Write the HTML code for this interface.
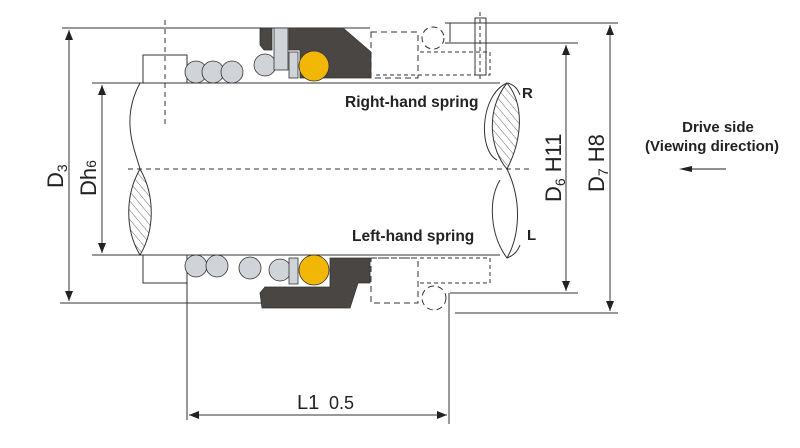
<!DOCTYPE html>
<html><head><meta charset="utf-8"><style>
html,body{margin:0;padding:0;background:#fff}
svg{display:block}
text{font-family:"Liberation Sans",Arial,sans-serif;fill:#222}
</style></head><body>
<svg width="800" height="448" viewBox="0 0 800 448" xmlns="http://www.w3.org/2000/svg">
<defs>
<marker id="a" markerWidth="10" markerHeight="8" refX="10" refY="4" orient="auto-start-reverse" markerUnits="userSpaceOnUse"><path d="M0,0 L10,4 L0,8 Z" fill="#222"/></marker>
<pattern id="h" width="6" height="6" patternUnits="userSpaceOnUse" patternTransform="rotate(-40)"><line x1="0" y1="0" x2="0" y2="6" stroke="#444" stroke-width="0.8"/></pattern>
</defs>
<g stroke="#333" stroke-width="1" fill="none">
<line x1="62" y1="28" x2="370" y2="28"/>
<line x1="60" y1="303" x2="262" y2="303"/>
<line x1="92" y1="83" x2="500" y2="83"/>
<line x1="92" y1="255" x2="500" y2="255"/>
<line x1="128" y1="169" x2="530" y2="169" stroke-dasharray="5,4"/>
<line x1="165" y1="20" x2="165" y2="125" stroke-dasharray="5,4"/>
<line x1="69" y1="30" x2="69" y2="301" marker-start="url(#a)" marker-end="url(#a)"/>
<line x1="102" y1="85" x2="102" y2="253" marker-start="url(#a)" marker-end="url(#a)"/>
<line x1="445" y1="43" x2="578" y2="43"/>
<line x1="450" y1="293" x2="578" y2="293"/>
<line x1="566" y1="45" x2="566" y2="291" marker-start="url(#a)" marker-end="url(#a)"/>
<line x1="445" y1="23" x2="618" y2="23"/>
<line x1="455" y1="313" x2="618" y2="313"/>
<line x1="610" y1="25" x2="610" y2="311" marker-start="url(#a)" marker-end="url(#a)"/>
<line x1="187" y1="283" x2="187" y2="420"/>
<line x1="449" y1="300" x2="449" y2="424"/>
<line x1="189" y1="415" x2="447" y2="415" marker-start="url(#a)" marker-end="url(#a)"/>
<rect x="143" y="55" width="44" height="28"/>
<rect x="143" y="255" width="44" height="28"/>
<path d="M140,83 C120,120 135,150 140,169"/>
<path d="M140,169 C125,195 125,230 140,255 C155,230 155,195 140,169 Z" fill="url(#h)"/>
<path d="M507,83 C485,110 490,150 507,169 C522,140 525,105 507,83 Z" fill="url(#h)"/>
<path d="M507,83 C480,95 478,150 497,160"/>
<path d="M507,169 C522,200 520,235 507,258 C490,235 488,200 500,180"/>
<path d="M507,258 C515,255 518,250 520,245"/>
<path d="M508,83 C516,86 518,90 520,95"/>
<path d="M371,32 H418 V78 H371 Z" stroke-dasharray="6,4"/>
<path d="M371,258 H418 V303 H371 Z" stroke-dasharray="6,4"/>
<circle cx="433" cy="38" r="11" stroke-dasharray="6,4"/>
<circle cx="434" cy="298" r="12" stroke-dasharray="6,4"/>
<path d="M420,52 H490 V75 H375" stroke-dasharray="4,3"/>
<path d="M420,283 H490 V258 H375" stroke-dasharray="4,3"/>
<rect x="475" y="18" width="11" height="57"/>
<line x1="480" y1="12" x2="480" y2="80" stroke-dasharray="4,3"/>
<line x1="450" y1="23" x2="450" y2="42"/>
<line x1="449" y1="293" x2="449" y2="313"/>
</g>
<g stroke="#333" stroke-width="0.8">
<circle cx="196" cy="72" r="11" fill="#d0d3d8"/>
<circle cx="213" cy="72" r="11" fill="#d0d3d8"/>
<circle cx="232" cy="72" r="11" fill="#d0d3d8"/>
<circle cx="265" cy="65" r="11" fill="#d0d3d8"/>
<rect x="274" y="28" width="14" height="42" fill="#d0d3d8"/>
<path d="M260,28 H272 V50 H264 L260,45 Z" fill="#4a4644"/>
<path d="M289,28 H343 L371,52 V78 H300 V50 H289 Z" fill="#4a4644"/>
<rect x="289" y="52" width="9" height="26" fill="#d0d3d8"/>
<circle cx="314" cy="66" r="15" fill="#f2b705"/>
<circle cx="196" cy="266" r="11" fill="#d0d3d8"/>
<circle cx="217" cy="266" r="11" fill="#d0d3d8"/>
<circle cx="250" cy="268" r="11" fill="#d0d3d8"/>
<circle cx="280" cy="270" r="11" fill="#d0d3d8"/>
<path d="M330,258 H370 V283 H358 L350,308 H262 L260,293 L265,287 H330 Z" fill="#4a4644"/>
<rect x="289" y="258" width="9" height="26" fill="#d0d3d8"/>
<circle cx="314" cy="270" r="15" fill="#f2b705"/>
</g>
<line x1="690" y1="169" x2="726" y2="169" stroke="#222" stroke-width="1"/>
<path d="M679,169 L692,166 L692,172 Z" fill="#222"/>
<text x="345" y="107" font-size="15.5" font-weight="bold">Right-hand spring</text>
<text x="352" y="241" font-size="15.5" font-weight="bold">Left-hand spring</text>
<text x="522" y="98" font-size="15" font-weight="bold">R</text>
<text x="527" y="240" font-size="15" font-weight="bold">L</text>
<text x="718" y="132" font-size="15" font-weight="bold" text-anchor="middle">Drive side</text>
<text x="712" y="151" font-size="15" font-weight="bold" text-anchor="middle">(Viewing direction)</text>
<text x="297" y="409" font-size="20">L1</text>
<text x="329" y="409" font-size="18">0.5</text>
<text transform="translate(63,188) rotate(-90)" font-size="22">D<tspan font-size="14" dy="4">3</tspan></text>
<text transform="translate(96,196) rotate(-90)" font-size="22">Dh<tspan font-size="14">6</tspan></text>
<text transform="translate(561,202) rotate(-90)" font-size="22">D<tspan font-size="14" dy="4">6</tspan><tspan dy="-4"> H11</tspan></text>
<text transform="translate(604,192) rotate(-90)" font-size="22">D<tspan font-size="14" dy="4">7</tspan><tspan dy="-4"> H8</tspan></text>
</svg>
</body></html>
